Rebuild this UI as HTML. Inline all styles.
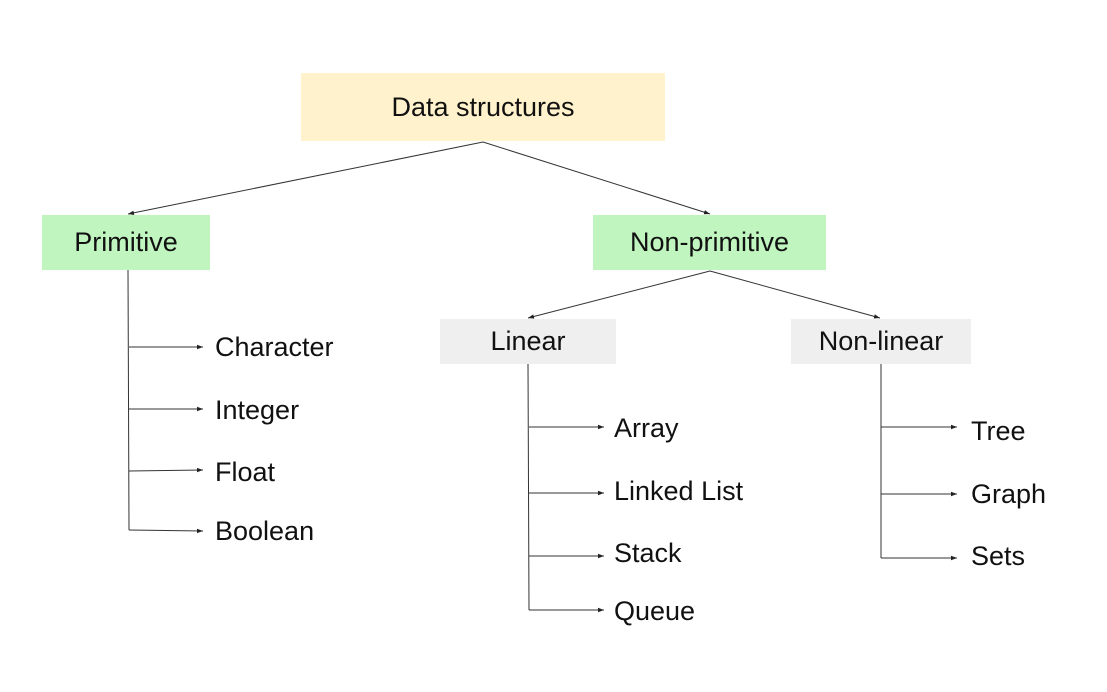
<!DOCTYPE html>
<html><head><style>
body{margin:0;width:1107px;height:692px;background:#fff;font-family:"Liberation Sans",sans-serif;position:relative;overflow:hidden}
.b{position:absolute;display:flex;align-items:center;justify-content:center;font-size:27px;color:#111}
.t{position:absolute;font-size:27px;color:#111;line-height:1}
</style></head><body>
<div class="b" style="left:301px;top:73px;width:364px;height:68px;background:#fff2cc">Data structures</div>
<div class="b" style="left:42px;top:215px;width:168px;height:55px;background:#c0f5c0">Primitive</div>
<div class="b" style="left:593px;top:215px;width:233px;height:55px;background:#c0f5c0">Non-primitive</div>
<div class="b" style="left:440px;top:319px;width:176px;height:45px;background:#efefef">Linear</div>
<div class="b" style="left:791px;top:319px;width:180px;height:45px;background:#efefef">Non-linear</div>
<svg width="1107" height="692" style="position:absolute;left:0;top:0">
<defs><marker id="a" markerWidth="6" markerHeight="6" refX="6" refY="3" orient="auto"><path d="M0,0.8 L6,3 L0,5.2z" fill="#222"/></marker></defs>
<g stroke="#333" stroke-width="1" fill="none">
<line x1="483" y1="142" x2="128" y2="214" marker-end="url(#a)"/>
<line x1="483" y1="142" x2="710" y2="214" marker-end="url(#a)"/>
<line x1="710" y1="271" x2="528" y2="318" marker-end="url(#a)"/>
<line x1="710" y1="271" x2="880" y2="318" marker-end="url(#a)"/>
<line x1="128" y1="270" x2="129" y2="530"/>
<line x1="129" y1="347" x2="203" y2="347" marker-end="url(#a)"/>
<line x1="129" y1="409" x2="203" y2="409" marker-end="url(#a)"/>
<line x1="129" y1="471" x2="203" y2="470" marker-end="url(#a)"/>
<line x1="129" y1="530" x2="203" y2="531" marker-end="url(#a)"/>
<line x1="528" y1="364" x2="529" y2="610"/>
<line x1="529" y1="427" x2="604" y2="427" marker-end="url(#a)"/>
<line x1="529" y1="493" x2="604" y2="493" marker-end="url(#a)"/>
<line x1="529" y1="556" x2="604" y2="556" marker-end="url(#a)"/>
<line x1="529" y1="610" x2="604" y2="610" marker-end="url(#a)"/>
<line x1="881" y1="364" x2="881" y2="558"/>
<line x1="881" y1="427" x2="957" y2="427" marker-end="url(#a)"/>
<line x1="881" y1="494" x2="957" y2="494" marker-end="url(#a)"/>
<line x1="881" y1="558" x2="957" y2="558" marker-end="url(#a)"/>
</g></svg>
<div class="t" style="left:215px;top:334px">Character</div>
<div class="t" style="left:215px;top:397px">Integer</div>
<div class="t" style="left:215px;top:459px">Float</div>
<div class="t" style="left:215px;top:518px">Boolean</div>
<div class="t" style="left:614px;top:415px">Array</div>
<div class="t" style="left:614px;top:478px">Linked List</div>
<div class="t" style="left:614px;top:540px">Stack</div>
<div class="t" style="left:614px;top:598px">Queue</div>
<div class="t" style="left:971px;top:418px">Tree</div>
<div class="t" style="left:971px;top:481px">Graph</div>
<div class="t" style="left:971px;top:543px">Sets</div>
</body></html>
